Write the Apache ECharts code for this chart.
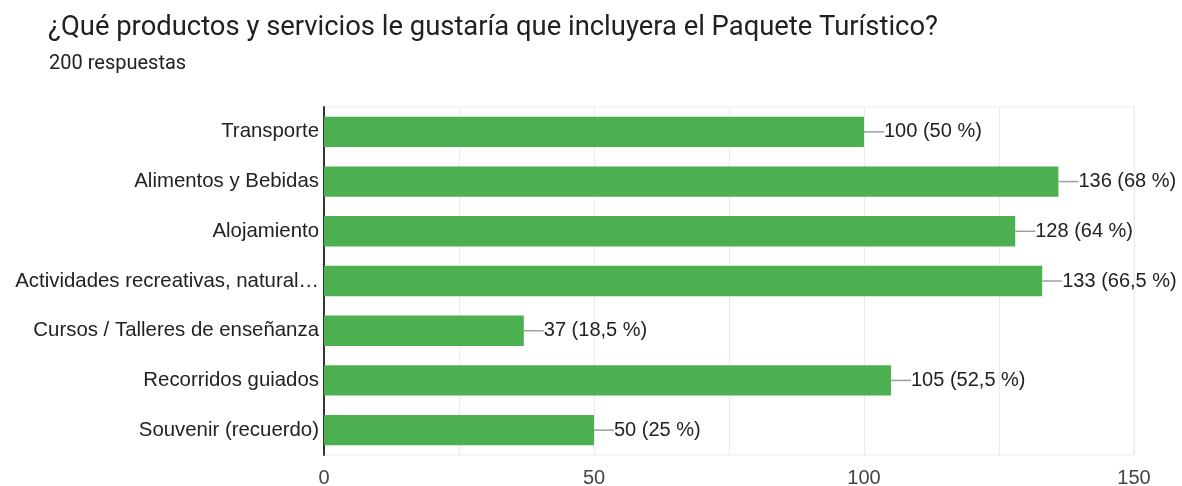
<!DOCTYPE html>
<html>
<head>
<meta charset="utf-8">
<script src="https://cdn.jsdelivr.net/npm/echarts@6/dist/echarts.min.js"></script>
<style>
  html, body { margin: 0; padding: 0; background: #fff; }
  #main { width: 1182px; height: 486px; }
</style>
</head>
<body>
<div id="main"></div>
<script>
// chart data
var categories = [
    'Transporte',
    'Alimentos y Bebidas',
    'Alojamiento',
    'Actividades recreativas, natural…',
    'Cursos / Talleres de enseñanza',
    'Recorridos guiados',
    'Souvenir (recuerdo)'
];
var counts = [100, 136, 128, 133, 37, 105, 50];
var percents = ['50', '68', '64', '66,5', '18,5', '52,5', '25'];
var xTicks = [0, 50, 100, 150];

var chart = echarts.init(document.getElementById('main'));

var option = {
    animation: false,
    title: [
        {
            text: '¿Qué productos y servicios le gustaría que incluyera el Paquete Turístico?',
            left: 43,
            top: 10,
            textStyle: { fontFamily: 'Roboto', fontSize: 27.4, fontWeight: 'normal', color: '#202124' }
        },
        {
            text: '200 respuestas',
            left: 44,
            top: 49,
            textStyle: { fontFamily: 'Roboto', fontSize: 20, fontWeight: 'normal', color: '#202124' }
        }
    ],
    grid: {
        left: 324,
        right: 48,
        top: 107,
        bottom: 31,
        outerBoundsMode: 'none',
        containLabel: false,
        show: true,
        borderColor: '#ebebeb',
        borderWidth: 1
    },
    xAxis: {
        type: 'value',
        min: 0,
        max: 150,
        interval: 25,
        axisLine: { show: false },
        axisTick: { show: false },
        splitLine: { lineStyle: { color: '#ebebeb', width: 1 } },
        axisLabel: {
            margin: 13,
            fontFamily: 'Liberation Sans',
            fontSize: 20,
            color: '#444',
            formatter: function (v) {
                return xTicks.indexOf(v) >= 0 ? String(v) : '';
            }
        }
    },
    yAxis: {
        type: 'category',
        inverse: true,
        data: categories,
        axisTick: { show: false },
        axisLine: { lineStyle: { color: '#333', width: 2 } },
        axisLabel: {
            margin: 5,
            fontFamily: 'Liberation Sans',
            fontSize: 20.4,
            color: '#222'
        }
    },
    series: [{
        type: 'bar',
        data: counts,
        barCategoryGap: '39%',
        itemStyle: { color: '#4caf50' },
        label: {
            show: true,
            position: 'right',
            distance: 2,
            fontFamily: 'Liberation Sans',
            fontSize: 20,
            color: '#222',
            formatter: function (p) {
                return p.value + ' (' + percents[p.dataIndex] + ' %)';
            }
        },
        labelLayout: { dx: 18 },
        labelLine: { show: true, lineStyle: { color: '#9e9e9e', width: 1.5 } }
    }]
};

chart.setOption(option);
</script>
</body>
</html>
